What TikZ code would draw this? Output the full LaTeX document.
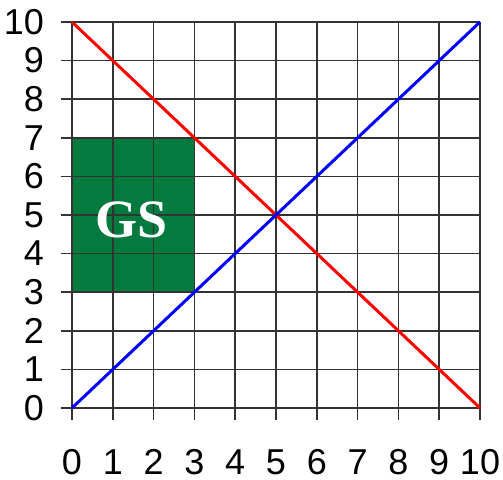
\documentclass[tikz,border=0pt]{standalone}
\usepackage{fontspec}
\setmainfont{Liberation Sans}
\newfontfamily\gsfont{Liberation Serif}
\usepackage{tikz}
\usetikzlibrary{calc}
\definecolor{gsgreen}{HTML}{037A3E}
\definecolor{gridgray}{HTML}{333333}

\begin{document}
\begin{tikzpicture}[x=20.4pt, y=19.3pt]
    \useasboundingbox (-36pt,-36pt) rectangle (215.5pt,204pt);
    \fill[gsgreen] (0,3) rectangle (3,7);
    \foreach \i in {0,...,10} {
        \draw[gridgray, line width=0.75pt] (-0.27,\i) -- (10,\i);
        \draw[gridgray, line width=0.75pt] (\i,10) -- (\i,-0.31);
        \node[anchor=east, inner sep=0pt, font=\fontsize{18}{18}\selectfont] (ylab\i) at (-0.68,\i) {\i};
        \node[inner sep=0pt, text depth=0pt, font=\fontsize{18}{18}\selectfont] (xlab\i) at (\i,-1.41) {\i};
    }
    \node[text=white, inner sep=0pt, font=\gsfont\bfseries\fontsize{27}{27}\selectfont] (gs) at (1.45,4.88) {GS};
    \draw[red, line width=1.5pt] (0,10) -- (10,0);
    \draw[blue, line width=1.5pt] (0,0) -- (10,10);
\end{tikzpicture}
\end{document}
